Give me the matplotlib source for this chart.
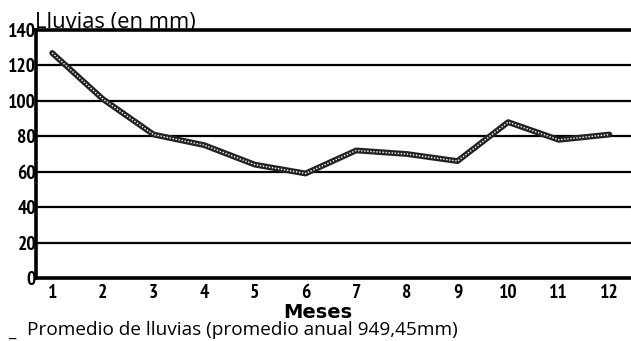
import matplotlib
matplotlib.use("Agg")
import matplotlib.pyplot as plt

months = [1, 2, 3, 4, 5, 6, 7, 8, 9, 10, 11, 12]
rain = [127, 101, 81, 75, 64, 59, 72, 70, 66, 88, 78, 81]
yticks = [0, 20, 40, 60, 80, 100, 120, 140]

NARROW = ['PT Sans Narrow', 'Roboto Condensed', 'Liberation Sans', 'DejaVu Sans']
HUMAN = ['Open Sans', 'Noto Sans', 'DejaVu Sans']
plt.rcParams['font.family'] = HUMAN

fig = plt.figure(figsize=(6.31, 3.41), dpi=100)
ax = fig.add_axes([36/631, 63/341, 1 - 36/631 + 0.01, 248/341])

ax.set_xlim(0.68, 12.55)
ax.set_ylim(0, 140)

for v in yticks[1:-1]:
    ax.axhline(v, color='black', lw=1.6, zorder=1)

ax.plot(months, rain, color='#222222', lw=4.2, zorder=3, solid_capstyle='round')
ax.plot(months, rain, color='white', lw=1.0, ls=(0, (1, 1.2)), zorder=4)

for s in ['left', 'bottom', 'top']:
    ax.spines[s].set_linewidth(2.6)
    ax.spines[s].set_color('black')
ax.spines['right'].set_visible(False)

ax.set_yticks(yticks)
ax.set_yticklabels([str(v) for v in yticks], fontsize=14, fontweight='bold', family=NARROW)
ax.set_xticks(months)
ax.set_xticklabels([str(m) for m in months], fontsize=14, fontweight='bold', family=NARROW)
ax.tick_params(axis='both', length=0)
ax.tick_params(axis='y', pad=0)
ax.tick_params(axis='x', pad=4)

fig.text(35/631, 1 - 28/341, 'Lluvias (en mm)', fontsize=15.8, ha='left', va='baseline')
fig.text(318/631, 1 - 318/341, 'Meses', fontsize=14, fontweight='bold', ha='center', va='baseline',
         family=['DejaVu Sans'])
fig.text(8/631, 1 - 338/341, '_', fontsize=12, ha='left', va='baseline')
fig.text(27/631, 1 - 335/341, 'Promedio de lluvias (promedio anual 949,45mm)', fontsize=13.7,
         ha='left', va='baseline')

fig.savefig('out.png', dpi=100)
